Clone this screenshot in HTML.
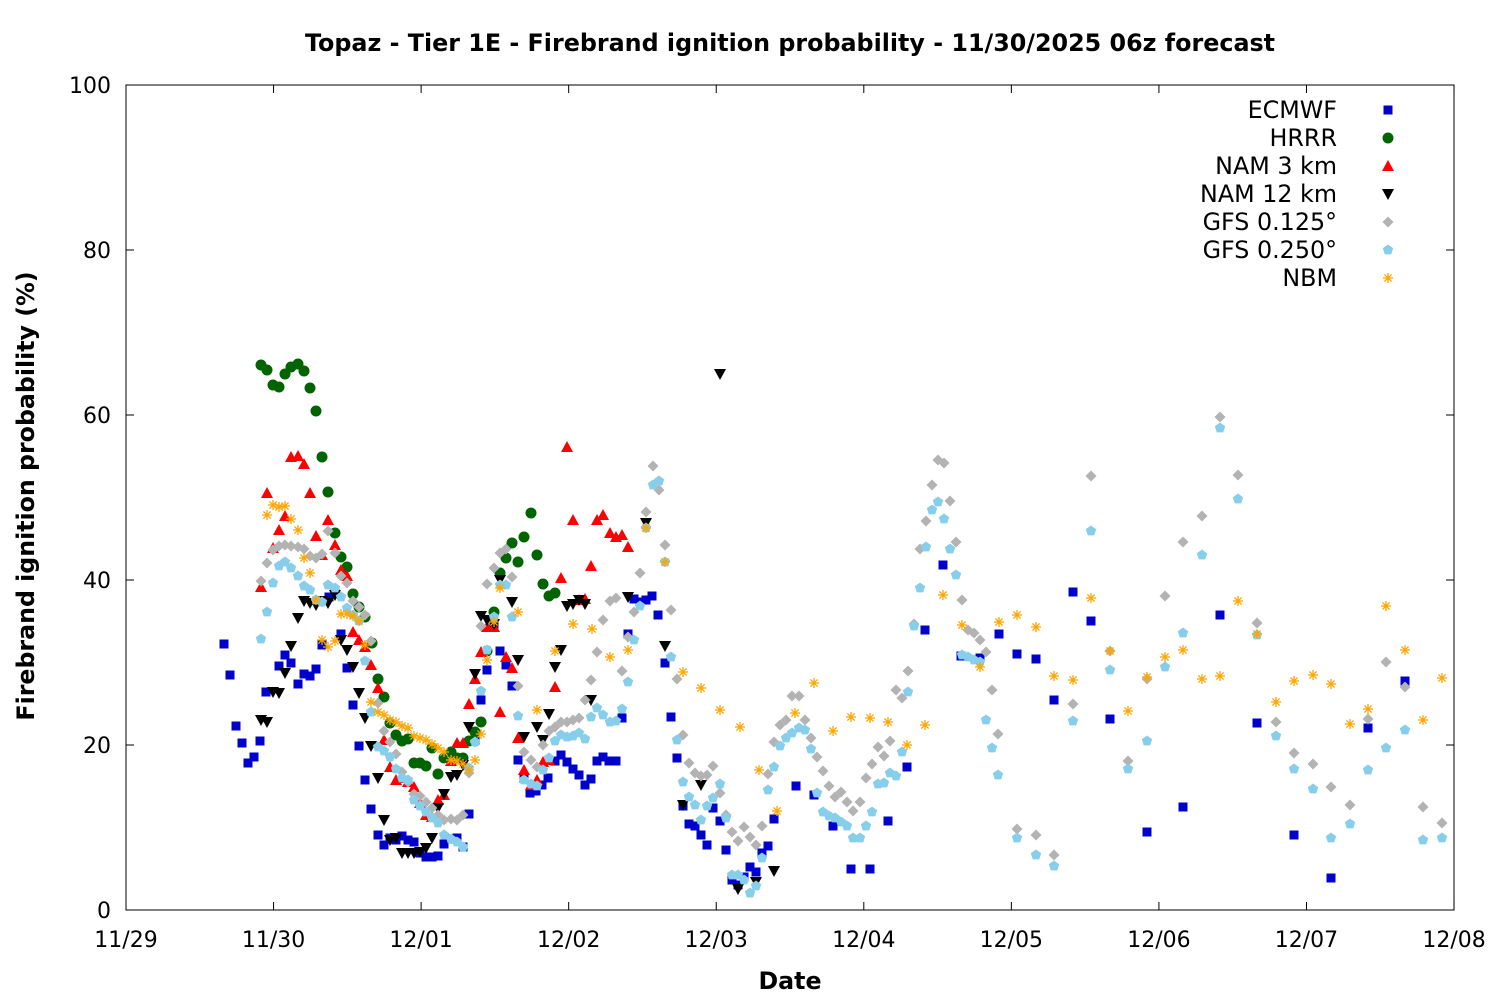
<!DOCTYPE html>
<html><head><meta charset="utf-8">
<style>
html,body{margin:0;padding:0;background:#fff;}
svg{display:block;font-family:"Liberation Sans","DejaVu Sans",sans-serif;}
</style></head>
<body>
<svg id="c" width="1500" height="1000" xmlns="http://www.w3.org/2000/svg">
<rect width="1500" height="1000" fill="#fff"/>
<text x="790" y="51" text-anchor="middle" font-size="23.8" font-weight="bold" font-family="DejaVu Sans, sans-serif">Topaz - Tier 1E - Firebrand ignition probability - 11/30/2025 06z forecast</text>
<text x="790" y="989" text-anchor="middle" font-size="23.7" font-weight="bold" font-family="DejaVu Sans, sans-serif">Date</text>
<text transform="translate(34,496) rotate(-90)" text-anchor="middle" font-size="23.7" font-weight="bold" font-family="DejaVu Sans, sans-serif">Firebrand ignition probability (%)</text>
<g id="axes" stroke="#000" stroke-width="1" fill="none">
<rect x="126" y="85" width="1328" height="825"/>
</g>
<g id="ticks" font-size="22" font-family="DejaVu Sans, sans-serif"></g>
<g id="pts"></g>
<g id="leg" font-size="23.8" font-family="DejaVu Sans, sans-serif" text-anchor="end">
<text x="1337" y="118">ECMWF</text>
<text x="1337" y="146">HRRR</text>
<text x="1337" y="174">NAM 3 km</text>
<text x="1337" y="202">NAM 12 km</text>
<text x="1337" y="230">GFS 0.125°</text>
<text x="1337" y="258">GFS 0.250°</text>
<text x="1337" y="286">NBM</text>
</g>
</svg>
<script>
var NS="http://www.w3.org/2000/svg";
function el(p,t,a){var e=document.createElementNS(NS,t);for(var k in a)e.setAttribute(k,a[k]);p.appendChild(e);return e;}
var tk=document.getElementById('ticks');
var xl=["11/29","11/30","12/01","12/02","12/03","12/04","12/05","12/06","12/07","12/08"];
for(var i=0;i<10;i++){var x=126+147.56*i;
el(tk,'line',{x1:x,y1:910,x2:x,y2:902,stroke:'#000'});
el(tk,'line',{x1:x,y1:85,x2:x,y2:93,stroke:'#000'});
var t=el(tk,'text',{x:x,y:947,'text-anchor':'middle'});t.textContent=xl[i];}
for(var v=0;v<=100;v+=20){var y=910-8.25*v;
el(tk,'line',{x1:126,y1:y,x2:134,y2:y,stroke:'#000'});
el(tk,'line',{x1:1454,y1:y,x2:1446,y2:y,stroke:'#000'});
var t=el(tk,'text',{x:111,y:y+8,'text-anchor':'end'});t.textContent=v;}
var P=document.getElementById('pts');
function sq(x,y){el(P,'rect',{x:x-4.5,y:y-4.5,width:9,height:9,fill:'#0000cd'});}
function ci(x,y){el(P,'circle',{cx:x,cy:y,r:5.5,fill:'#006400'});}
function tu(x,y){el(P,'polygon',{points:(x)+','+(y-6)+' '+(x-6)+','+(y+5)+' '+(x+6)+','+(y+5),fill:'#ff0000'});}
function td(x,y){el(P,'polygon',{points:(x)+','+(y+6)+' '+(x-6)+','+(y-5)+' '+(x+6)+','+(y-5),fill:'#000'});}
function di(x,y){el(P,'polygon',{points:x+','+(y-5.5)+' '+(x+5.5)+','+y+' '+x+','+(y+5.5)+' '+(x-5.5)+','+y,fill:'#b3b3b3'});}
function pe(x,y){var s='';for(var k=0;k<5;k++){var a=-Math.PI/2+k*2*Math.PI/5;s+=(x+5.5*Math.cos(a)).toFixed(1)+','+(y+5.5*Math.sin(a)).toFixed(1)+' ';}el(P,'polygon',{points:s,fill:'#87ceeb'});}
function st(x,y){var g=el(P,'g',{stroke:'#ffa500','stroke-width':1.3});el(g,'line',{x1:x-5,y1:y,x2:x+5,y2:y});el(g,'line',{x1:x,y1:y-5,x2:x,y2:y+5});el(g,'line',{x1:x-3.6,y1:y-3.6,x2:x+3.6,y2:y+3.6});el(g,'line',{x1:x-3.6,y1:y+3.6,x2:x+3.6,y2:y-3.6});}
function draw(f,a){for(var i=0;i<a.length;i+=2)f(a[i],a[i+1]);}
var EC=[224,644,230,675,236,726,242,743,248,763,254,757,260,741,266,692,279,666,285,655,291,663,298,684,304,674,310,676,316,669,322,645,329,597,335,591,341,634,347,668,353,705,359,746,365,780,371,809,378,835,384,845,390,838,396,840,402,836,408,840,414,842,420,853,426,857,432,857,438,856,444,844,451,839,457,838,463,847,469,814,475,740,481,700,487,670,494,624,500,651,506,665,512,686,518,760,524,778,530,793,536,791,542,785,548,778,555,761,561,755,567,762,573,769,579,775,585,785,591,779,597,761,603,757,609,761,616,761,622,718,628,634,634,599,640,602,646,600,652,596,658,615,665,663,671,717,677,758,683,806,689,824,695,826,701,835,707,845,713,808,720,821,726,850,732,880,738,885,744,877,750,867,756,872,762,853,768,846,774,819,796,786,814,795,833,826,851,869,870,869,888,821,907,767,925,630,943,565,961,656,980,658,999,634,1017,654,1036,659,1054,700,1073,592,1091,621,1110,719,1147,832,1183,807,1220,615,1257,723,1294,835,1331,878,1368,728,1405,681];
var HR=[261,365,267,370,273,385,279,387,285,374,291,367,298,364,304,371,310,388,316,411,322,457,328,492,335,533,341,557,347,567,353,594,359,607,365,617,372,643,378,679,384,697,390,723,396,735,402,741,408,739,414,763,420,763,426,766,432,748,438,774,444,758,451,752,457,758,463,758,469,741,475,732,481,722,487,651,494,612,500,573,506,558,512,543,518,562,524,537,531,513,537,555,543,584,549,596,555,593];
var N3=[261,587,267,493,273,548,279,530,285,516,291,457,298,456,304,464,310,493,316,536,322,555,328,520,335,545,341,570,347,576,353,632,359,640,365,647,371,665,378,688,384,740,390,767,396,780,402,778,408,782,414,787,420,803,426,815,432,817,438,800,444,795,451,761,457,743,463,743,469,704,475,679,481,652,487,627,494,627,500,712,506,657,512,668,518,738,524,770,531,785,537,780,543,762,549,760,555,687,561,578,567,447,573,520,579,600,585,599,591,566,597,520,603,515,610,533,616,537,622,535,628,547];
var N12=[261,720,267,722,273,692,279,693,285,673,291,646,298,618,304,601,310,603,316,605,322,601,328,603,335,595,341,640,347,650,353,667,359,693,365,718,371,746,378,778,384,820,390,840,396,838,402,853,408,853,414,853,420,852,426,848,432,838,438,808,444,794,451,777,457,775,463,765,469,727,475,674,481,616,487,620,494,624,500,580,512,602,518,660,524,737,537,727,543,740,549,714,555,667,561,650,567,606,573,604,579,600,585,604,591,700,628,597,646,523,665,646,683,805,701,785,720,374,738,889,756,882,774,871];
var G1=[261,581,267,563,273,550,279,546,285,545,291,546,298,547,304,549,310,556,316,558,322,554,328,531,335,553,341,576,347,583,353,601,359,607,365,615,371,641,378,703,384,731,390,742,396,754,402,772,408,782,414,794,420,796,426,802,432,808,438,815,444,820,451,819,457,820,463,815,469,773,475,742,481,626,487,584,494,568,500,553,506,549,512,577,518,686,524,752,531,760,537,767,543,745,549,731,555,727,561,722,567,722,573,720,579,718,585,700,591,680,597,652,603,620,610,601,616,598,622,671,628,637,634,612,640,573,646,512,653,466,659,490,665,545,671,610,677,679,683,735,689,763,695,773,701,776,707,775,713,766,720,793,726,815,732,832,738,841,744,827,750,837,756,845,762,826,768,774,774,742,780,725,786,720,792,696,799,696,805,720,811,738,817,757,823,771,829,786,835,797,841,792,847,802,853,811,860,802,866,778,872,764,878,747,884,756,890,741,896,690,902,698,908,671,914,624,920,549,926,521,932,485,938,460,944,463,950,501,956,542,962,600,968,630,974,633,980,640,986,652,992,690,998,734,1017,829,1036,835,1054,855,1073,704,1091,476,1110,651,1128,761,1147,679,1165,596,1183,542,1202,516,1220,417,1238,475,1257,623,1276,722,1294,753,1313,764,1331,787,1350,805,1368,719,1386,662,1405,687,1423,807,1442,823];
var G2=[261,639,267,612,273,583,279,566,285,562,291,568,298,576,304,586,310,590,316,600,322,602,328,585,335,588,341,597,347,608,353,615,359,621,365,661,371,712,378,747,384,751,390,757,396,769,402,778,408,780,414,800,420,806,426,812,432,818,438,823,444,835,451,839,457,842,463,847,469,768,475,742,481,691,487,650,494,617,500,585,506,585,512,617,518,716,524,780,531,784,537,786,543,770,549,758,555,741,561,735,567,737,573,736,579,733,585,739,591,717,597,708,603,715,610,722,616,721,622,709,628,682,634,640,640,606,646,528,653,485,659,481,665,562,671,657,677,740,683,782,689,797,695,805,701,820,707,806,713,798,720,784,726,818,732,875,738,875,744,880,750,893,756,886,762,858,768,790,774,767,780,746,786,738,792,733,799,728,805,730,811,749,817,793,823,812,829,816,835,818,841,822,847,826,853,838,860,838,866,826,872,812,878,784,884,783,890,773,896,776,902,752,908,692,914,626,920,588,926,547,932,510,938,502,944,519,950,549,956,575,962,655,968,657,974,660,980,662,986,720,992,748,998,775,1017,838,1036,855,1054,866,1073,721,1091,531,1110,670,1128,769,1147,741,1165,667,1183,633,1202,555,1220,428,1238,499,1257,635,1276,736,1294,769,1313,789,1331,838,1350,824,1368,770,1386,748,1405,730,1423,840,1442,838];
var NB=[267,515,273,505,279,507,285,506,291,519,298,530,304,558,310,573,316,600,322,640,328,647,335,641,341,614,347,614,353,616,359,621,365,645,371,702,378,712,384,715,390,720,396,722,402,726,408,728,414,736,420,738,426,740,432,744,438,748,444,752,451,760,457,761,463,764,469,770,475,760,481,734,487,660,494,622,500,588,518,612,537,710,555,651,573,624,592,629,610,657,628,650,646,528,665,562,683,672,701,688,720,710,740,727,759,770,777,811,795,713,814,683,833,731,851,717,870,718,888,722,907,745,925,725,943,595,962,625,980,667,999,622,1017,615,1036,627,1054,676,1073,680,1091,598,1110,651,1128,711,1147,677,1165,657,1183,650,1202,679,1220,676,1238,601,1257,634,1276,702,1294,681,1313,675,1331,684,1350,724,1368,709,1386,606,1405,650,1423,720,1442,678];
draw(sq,EC);draw(ci,HR);draw(tu,N3);draw(td,N12);draw(di,G1);draw(pe,G2);draw(st,NB);
sq(1388,110);ci(1388,138);tu(1388,166);td(1388,194);di(1388,222);pe(1388,250);st(1388,278);
</script>
</body></html>
